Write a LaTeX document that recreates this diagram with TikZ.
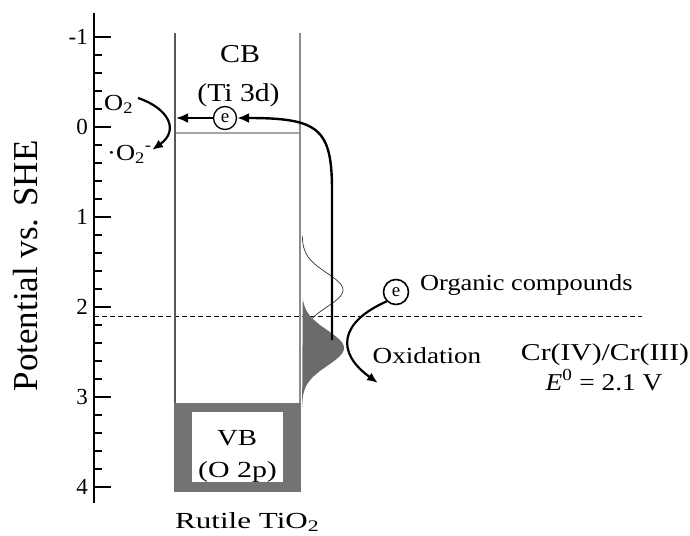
\documentclass[tikz,border=0pt]{standalone}
\usepackage{fontspec}
\setmainfont{Liberation Serif}
\usetikzlibrary{arrows.meta}
\newcommand{\sbx}[3]{\scalebox{#1}[#2]{#3}}
\begin{document}
\begin{tikzpicture}[x=1pt,y=-1pt,
  txt/.style={inner sep=0pt,font=\fontsize{23}{27}\selectfont},
  tick/.style={inner sep=0pt,font=\fontsize{23}{27}\selectfont},
  ecirc/.style={circle,draw,line width=1.3pt,inner sep=0pt,minimum size=23pt,font=\fontsize{19}{21}\selectfont},
  arr/.style={line width=2.4pt,-{Latex[length=12pt,width=10pt]}},
  band/.style={line width=1.6pt},
  maj/.style={line width=1.4pt},
  mino/.style={line width=1.2pt}]
\useasboundingbox (0,0) rectangle (690,535);
% axis
\draw[maj] (94,13) -- (94,503);
\foreach \v [count=\i from 0] in {-1,0,1,2,3,4}{
  \draw[maj] (94,37+90*\i) -- (111,37+90*\i);
  \node[tick,anchor=east] (t\i) at (88,37+90*\i) {\v};
}
\foreach \k in {1,...,24}{
  \pgfmathtruncatemacro{\r}{mod(\k,5)}
  \ifnum\r>0 \draw[mino] (94,37+18*\k) -- (102,37+18*\k);\fi
}
\node[inner sep=0pt,rotate=90,font=\fontsize{35}{40}\selectfont] (ylab) at (26,266) {Potential vs. SHE};
% dashed level
\coordinate (dl) at (94,316);
\coordinate (dr) at (642,316);
\draw[line width=0.8pt,dash pattern=on 5pt off 3pt] (dl) -- (dr);
% VB box
\fill[black!55] (174,403) rectangle (301,492);
\fill[white] (192,412) rectangle (283,482);
% band edges
\draw[band,black!65] (175,33) -- (175,403);
\draw[band,black!45] (300,33) -- (300,403);
\draw[line width=2pt,black!35] (176,133) -- (299,133);
% distributions
\draw[line width=0.7pt,black!80] plot[domain=236:326,samples=60,smooth] ({302+41*exp(-((\x-290)/24)^2)},\x);
\fill[black!58] plot[domain=298:408,samples=60,smooth] ({302+42*exp(-((\x-348)/25)^2)},\x) -- cycle;
% texts
\node[txt,anchor=base] (cb) at (240,63) {\sbx{1.30}{1.12}{CB}};
\node[txt,anchor=base] (ti) at (238.5,101) {\sbx{1.29}{1.12}{(Ti 3d)}};
\node[txt,anchor=base] (vb) at (237,445) {\sbx{1.25}{1.0}{VB}};
\node[txt,anchor=base] (o2p) at (237.5,477) {\sbx{1.30}{1.0}{(O 2p)}};
\node[txt,anchor=base west] (rut) at (175,528) {\sbx{1.35}{1.0}{Rutile TiO\textsubscript{2}}};
\node[txt,anchor=base west] (o2) at (104,110) {\sbx{1.15}{1.0}{O\textsubscript{2}}};
\node[txt,anchor=base west] (o2m) at (107,160) {\sbx{1.15}{1.0}{·O\textsubscript{2}\textsuperscript{-}}};
\node[txt,anchor=base west] (org) at (420,290) {\sbx{1.145}{1.0}{Organic compounds}};
\node[txt,anchor=base] (oxi) at (427,363) {\sbx{1.18}{1.0}{Oxidation}};
\node[txt,anchor=base] (cr) at (605,360) {\sbx{1.29}{1.05}{Cr(IV)/Cr(III)}};
\node[txt,anchor=base] (e0) at (604,390) {\sbx{1.19}{1.05}{\textit{E}\textsuperscript{0} = 2.1 V}};
% electrons
\node[ecirc] (e1) at (225,118) {e};
\node[ecirc,line width=1.6pt,minimum size=25pt] (e2) at (396,292) {e};
% arrows
\coordinate (cbl) at (176,118);
\coordinate (vbot) at (332,340);
\draw[arr] (e1) -- (cbl);
\draw[arr] (vbot) -- (332,190) .. controls (332,128) and (318,118) .. (e1.east);
\coordinate (o2s) at (138,98);
\coordinate (o2e) at (152,150);
\draw[line width=2.2pt,-{Latex[length=11pt,width=9pt]}] (o2s) .. controls (168,108) and (180,130) .. (o2e);
\coordinate (oxe) at (378,383);
\draw[line width=2.2pt,-{Latex[length=11pt,width=9pt]}] (e2.225) .. controls (340,322) and (335,352) .. (oxe);
\end{tikzpicture}
\end{document}
